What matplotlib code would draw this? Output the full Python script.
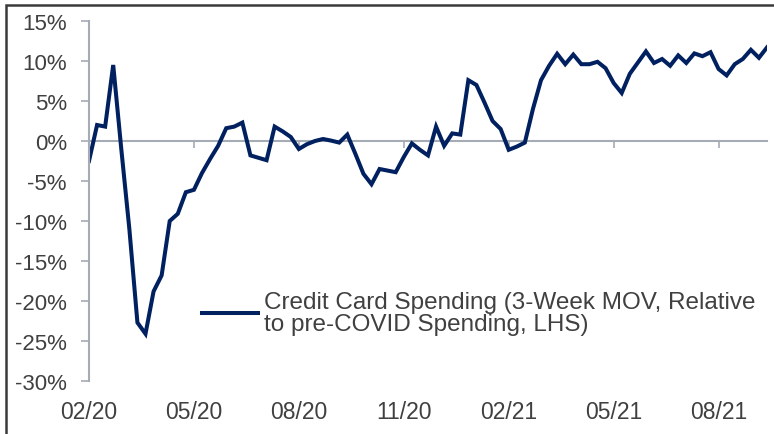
import matplotlib
matplotlib.use("Agg")
import matplotlib.pyplot as plt
from matplotlib.patches import Rectangle

# weekly credit card spending, % vs pre-COVID (3-week moving average)
spending = [
    -2.5, 2.0, 1.8, 9.5, -1.0, -11.0, -22.7, -24.1, -18.8, -16.8,
    -10.0, -9.1, -6.4, -6.1, -4.0, -2.25, -0.6, 1.6, 1.8, 2.3,
    -1.8, -2.1, -2.4, 1.8, 1.2, 0.5, -1.0, -0.4, 0.0, 0.25,
    0.05, -0.2, 0.8, -1.6, -4.1, -5.4, -3.5, -3.7, -3.9, -2.0,
    -0.3, -1.1, -1.8, 1.8, -0.6, 0.95, 0.8, 7.6, 7.0, 4.8,
    2.5, 1.5, -1.1, -0.7, -0.2, 4.0, 7.6, 9.4, 10.9, 9.6,
    10.8, 9.6, 9.6, 9.9, 9.1, 7.25, 6.0, 8.4, 9.8, 11.2,
    9.75, 10.25, 9.4, 10.7, 9.75, 10.95, 10.6, 11.1, 9.0, 8.2,
    9.6, 10.25, 11.4, 10.4, 11.7,
]
weeks = list(range(len(spending)))
tick_weeks = [0, 13, 26, 39, 52, 65, 78]
tick_labels = ["02/20", "05/20", "08/20", "11/20", "02/21", "05/21", "08/21"]
y_ticks = list(range(-30, 16, 5))

W, H = 774, 435
fig = plt.figure(figsize=(W / 100, H / 100), dpi=100)
ax = fig.add_axes([89 / W, 1 - 382 / H, (767 - 89) / W, (382 - 22) / H])

navy = "#002060"
axis_grey = "#a5acb5"
text_grey = "#404040"
plt.rcParams["font.family"] = ["Liberation Sans", "DejaVu Sans"]

ax.plot(weeks, spending, color=navy, lw=2.9, solid_joinstyle="miter",
        label="Credit Card Spending (3-Week MOV, Relative\nto pre-COVID Spending, LHS)")

ax.set_xlim(0, len(spending) - 1)
ax.set_ylim(-30, 15)
ax.set_yticks(y_ticks)
ax.set_yticklabels([f"{v}%" for v in y_ticks], fontsize=16, color=text_grey,
                   family="Liberation Sans")
ax.tick_params(axis="y", direction="out", length=6, width=1.2, color=axis_grey, pad=10)

# labels at the bottom, axis line on the zero level
ax.set_xticks(tick_weeks)
ax.set_xticklabels(tick_labels, fontsize=16.5, color=text_grey, family="Liberation Sans")
ax.tick_params(axis="x", length=0, pad=14)
for s in ["top", "right", "bottom"]:
    ax.spines[s].set_visible(False)
ax.spines["left"].set_color(axis_grey)
ax.spines["left"].set_linewidth(1.5)

zero_axis = ax.secondary_xaxis(30 / 45)
zero_axis.set_xticks(tick_weeks)
zero_axis.set_xticklabels([])
zero_axis.tick_params(direction="in", length=5, width=1.2, color=axis_grey)
for s in zero_axis.spines.values():
    s.set_color(axis_grey)
    s.set_linewidth(1.5)
zero_axis.set_zorder(0)
ax.set_zorder(1)

leg = ax.legend(loc="upper left", bbox_to_anchor=(0.153, 0.277), frameon=False,
                handlelength=2.3, handletextpad=0.22, borderaxespad=0,
                prop={"family": "Liberation Sans", "size": 17.5}, labelspacing=0.2)
for t in leg.get_texts():
    t.set_color(text_grey)
    t.set_linespacing(1.0)

# outer frame of the exhibit
fig.patches.append(Rectangle((6 / W, -0.1), 1.2, 1 - 6 / H + 0.1, transform=fig.transFigure,
                             fill=False, edgecolor="#3a3a3a", lw=1.8))

fig.savefig("out.png", dpi=100)
